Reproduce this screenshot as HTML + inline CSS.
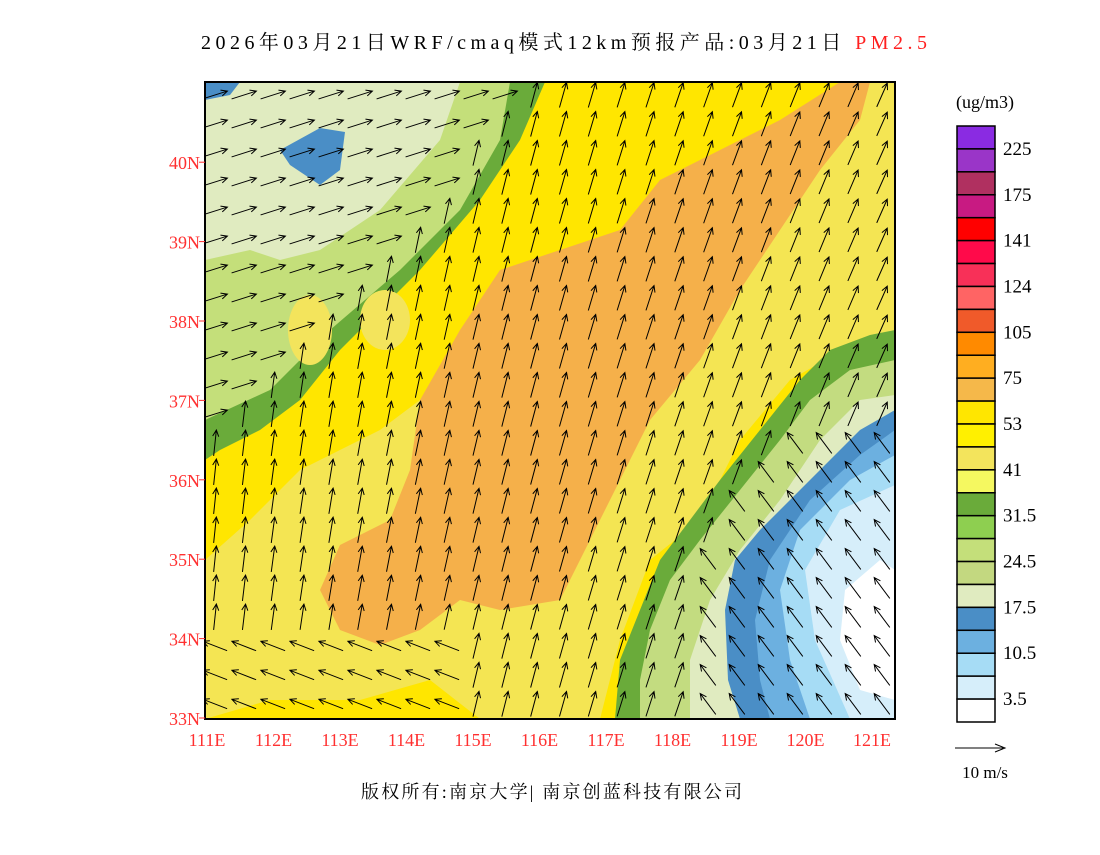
<!DOCTYPE html>
<html><head><meta charset="utf-8">
<style>
body{margin:0;background:#fff;}
svg text{font-family:"Liberation Serif","Noto Serif CJK SC",serif;}
</style></head>
<body>
<svg width="1100" height="850" viewBox="0 0 1100 850" xmlns="http://www.w3.org/2000/svg">
<rect width="1100" height="850" fill="#fff"/>
<text x="201" y="49" font-size="20" textLength="726" lengthAdjust="spacing">2026年03月21日WRF/cmaq模式12km预报产品:03月21日 <tspan fill="#ff2020">PM2.5</tspan></text>
<defs><clipPath id="mc"><rect x="205" y="82" width="690" height="637"/></clipPath></defs>
<g clip-path="url(#mc)">
<rect x="205" y="82" width="690" height="637" fill="#ffe600"/>
<path d="M840,82 L895,82 L895,330 L860,340 L790,380 L740,440 L700,520 L650,560 L620,640 L600,719 L480,719 L430,680 L360,700 L270,700 L205,719 L205,560 L250,520 L300,470 L380,430 L420,400 L500,420 L560,480 L600,420 L640,360 L700,300 L760,220 L820,160 Z" fill="#f3e45c" opacity="0.9"/>
<path d="M840,82 L870,82 L860,120 L820,170 L780,230 L740,290 L700,360 L650,420 L610,500 L580,560 L560,600 L500,610 L460,600 L420,630 L380,645 L340,630 L320,590 L340,545 L390,520 L410,470 L420,400 L460,330 L500,270 L560,250 L620,230 L660,180 L720,150 L780,120 Z" fill="#f5b04a"/>
<path d="M205,82 L545,82 L520,130 L470,200 L420,260 L380,300 L330,360 L290,400 L240,440 L205,450 Z" fill="#c4df7a"/>
<path d="M510,82 L545,82 L520,140 L480,200 L420,270 L390,300 L340,350 L300,400 L260,430 L220,450 L205,460 L205,420 L270,390 L330,330 L400,270 L460,210 L500,140 Z" fill="#6aab3a"/>
<path d="M205,82 L460,82 L440,140 L380,210 L320,250 L280,260 L250,250 L205,260 Z" fill="#e0ebc0"/>
<path d="M280,150 L320,128 L345,132 L340,170 L320,185 L290,165 Z" fill="#4a8ec6"/>
<path d="M205,82 L240,82 L230,95 L205,100 Z" fill="#4a8ec6"/>
<ellipse cx="310" cy="330" rx="22" ry="35" fill="#f3e45c"/>
<ellipse cx="385" cy="320" rx="25" ry="30" fill="#f3e45c"/>
<path d="M895,330 L870,335 L830,350 L800,380 L760,430 L720,480 L690,520 L660,560 L640,610 L620,660 L615,719 L895,719 Z" fill="#6aab3a"/>
<path d="M895,360 L850,370 L810,400 L780,440 L740,490 L700,540 L670,580 L650,630 L640,680 L640,719 L895,719 Z" fill="#c3dc80"/>
<path d="M895,395 L860,400 L820,440 L780,500 L740,550 L710,600 L690,660 L690,719 L895,719 Z" fill="#e0ebc0"/>
<path d="M895,410 L860,430 L810,480 L760,530 L735,560 L725,610 L728,680 L740,719 L895,719 Z" fill="#4a8ec6"/>
<path d="M895,430 L860,455 L810,500 L770,560 L755,620 L760,680 L770,719 L895,719 Z" fill="#6cb0e0"/>
<path d="M895,455 L850,480 L800,530 L780,590 L790,660 L810,719 L895,719 Z" fill="#a6dcf5"/>
<path d="M895,485 L840,510 L805,570 L815,640 L850,719 L895,719 Z" fill="#d6eefa"/>
<path d="M880,560 L845,590 L840,640 L860,690 L895,700 L895,570 Z" fill="#ffffff"/>
<g id="arrows" stroke="#000" stroke-width="1" fill="none"></g>
</g>
<rect x="205" y="82" width="690" height="637" fill="none" stroke="#000" stroke-width="2"/>
<g id="axes" font-size="18" fill="#ff3030"></g>
<text x="985" y="108" font-size="18" text-anchor="middle">(ug/m3)</text>
<g id="cbar"></g>
<line x1="955" y1="748" x2="1003" y2="748" stroke="#000"/>
<path d="M995,744 L1005,748 L995,752" stroke="#000" fill="none"/>
<text x="985" y="778" font-size="17" text-anchor="middle">10 m/s</text>
<text x="361" y="798" font-size="18" textLength="381" lengthAdjust="spacing">版权所有:南京大学| 南京创蓝科技有限公司</text>
</svg>
<script>
const latLabels=["40N","39N","38N","37N","36N","35N","34N","33N"];
const latValues=[40,39,38,37,36,35,34,33];
const lonLabels=["111E","112E","113E","114E","115E","116E","117E","118E","119E","120E","121E"];
const lonValues=[111,112,113,114,115,116,117,118,119,120,121];
const cbColors=["#8a2be2","#9a35c8","#b03060","#c81a82","#ff0000","#ff0a4a","#f83058","#ff6464","#f05a2a","#ff8a00","#ffae20","#f5b84a","#ffe600","#fff000","#f3e45c","#f5f860","#6aab3a","#8ecf50","#c4df7a","#c3d880","#e0ebc0","#4a8ec6","#6cb0e0","#a6dcf5","#d6eefa","#ffffff"];
const cbLabels=["225","175","141","124","105","75","53","41","31.5","24.5","17.5","10.5","3.5"];
const NS="http://www.w3.org/2000/svg";
const yOf=lat=>718-(lat-33)*79.4;
const xOf=lon=>205+(lon-111)*66.5;
const ax=document.getElementById('axes');
latValues.forEach((v,i)=>{
 const t=document.createElementNS(NS,'text');t.setAttribute('x',200);t.setAttribute('y',yOf(v)+7);t.setAttribute('text-anchor','end');t.textContent=latLabels[i];
 
 
 ax.appendChild(t);
 const l=document.createElementNS(NS,'line');l.setAttribute('x1',199);l.setAttribute('x2',205);l.setAttribute('y1',yOf(v));l.setAttribute('y2',yOf(v));l.setAttribute('stroke','#ff3030');ax.appendChild(l);
});
lonValues.forEach((v,i)=>{
 const t=document.createElementNS(NS,'text');t.setAttribute('x',xOf(v)+2);t.setAttribute('y',746);t.setAttribute('text-anchor','middle');t.textContent=lonLabels[i];
 
 
 ax.appendChild(t);
});
const cb=document.getElementById('cbar');
const cbTop=126,cbBot=722,nSeg=cbColors.length,segH=(cbBot-cbTop)/nSeg;
cbColors.forEach((c,i)=>{
 const r=document.createElementNS(NS,'rect');r.setAttribute('x',957);r.setAttribute('y',cbTop+i*segH);r.setAttribute('width',38);r.setAttribute('height',segH);r.setAttribute('fill',c);r.setAttribute('stroke','#000');r.setAttribute('stroke-width',1.5);
 
 
 cb.appendChild(r);
});
cbLabels.forEach((s,i)=>{
 const t=document.createElementNS(NS,'text');t.setAttribute('x',1003);t.setAttribute('y',cbTop+(2*i+1)*segH+6);t.setAttribute('font-size',19);t.textContent=s;
 
 
 cb.appendChild(t);
});
const ag=document.getElementById('arrows');
function dir(x,y){
 const d=(x-600)+(y-400)*0.7;
 if(x>690&&y>420&&d>200) return [-0.6,-0.8];
 if(y<82+(450-82)*(1-(x-205)/335)) return [0.95,-0.3];
 if(y>620&&x<470) return [-0.9,-0.35];
 return [0.1+(x-205)/690*0.35,-1];
}
for(let y=95;y<719;y+=29){
 for(let x=215;x<895;x+=29){
  let [dx,dy]=dir(x,y);const m=Math.hypot(dx,dy);dx/=m;dy/=m;
  const L=26,x1=x-dx*L/2,y1=y-dy*L/2,x2=x+dx*L/2,y2=y+dy*L/2;
  const p=document.createElementNS(NS,'path');
  const a=0.45,hx=x2-(dx*Math.cos(a)-dy*Math.sin(a))*7,hy=y2-(dy*Math.cos(a)+dx*Math.sin(a))*7;
  const hx2=x2-(dx*Math.cos(-a)-dy*Math.sin(-a))*7,hy2=y2-(dy*Math.cos(-a)+dx*Math.sin(-a))*7;
  p.setAttribute('d',`M${x1},${y1}L${x2},${y2}M${hx},${hy}L${x2},${y2}L${hx2},${hy2}`);
  
  
  ag.appendChild(p);
 }
}
</script>
</body></html>
